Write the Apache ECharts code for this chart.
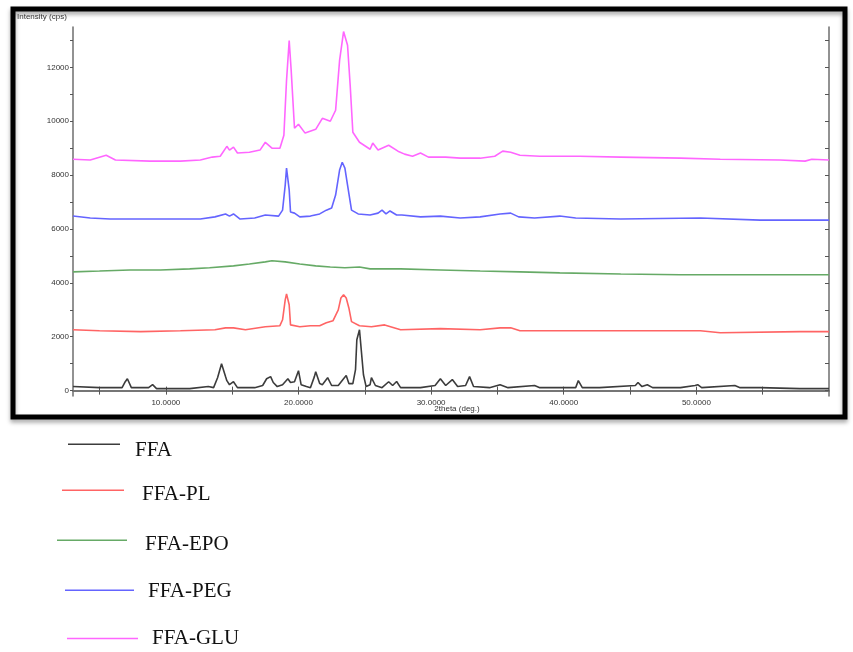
<!DOCTYPE html>
<html>
<head>
<meta charset="utf-8">
<script src="https://cdn.jsdelivr.net/npm/echarts@6/dist/echarts.min.js"></script>
<style>
html, body { margin: 0; padding: 0; background: #fff; }
#chart { width: 853px; height: 652px; }
</style>
</head>
<body>
<div id="chart"></div>
<script>
// 2theta (deg.) vs intensity (cps)
var ffa = [[3.0,150],[5.0,110],[6.7,110],[6.9,300],[7.1,440],[7.2,370],[7.4,110],[8.7,110],[9.0,220],[9.3,75],
	[11.8,75],[13.2,150],[13.6,110],[13.9,480],[14.2,1000],[14.3,1040],[14.5,520],[14.6,370],[14.8,220],[15.1,330],
	[15.4,110],[16.7,110],[17.3,190],[17.6,440],[17.9,520],[18.1,300],[18.4,150],[18.8,220],[19.2,440],[19.4,300],
	[19.7,330],[20.0,740],[20.2,220],[20.6,150],[20.9,110],[21.2,520],[21.3,700],[21.6,260],[21.8,220],[22.2,480],
	[22.5,190],[23.0,190],[23.4,440],[23.6,560],[23.8,260],[24.1,260],[24.3,780],[24.4,1890],[24.6,2260],[24.7,1700],
	[24.9,590],[25.1,150],[25.4,220],[25.5,480],[25.8,190],[26.3,110],[26.8,330],[27.1,190],[27.4,340],[27.7,110],
	[29.2,110],[30.3,190],[30.7,440],[31.1,190],[31.6,410],[32.0,150],[32.6,190],[32.9,520],[33.2,150],[34.4,110],
	[35.2,220],[35.8,110],[37.8,190],[38.2,110],[40.9,110],[41.1,370],[41.4,110],[42.7,110],[45.4,190],[45.6,300],
	[45.9,150],[46.3,220],[46.7,110],[48.8,110],[49.9,190],[50.1,220],[50.4,110],[52.9,190],[53.3,110],[54.8,110],
	[57.8,75],[60.0,75]];

var ffaPL = [[3.0,2260],[5.0,2220],[8.1,2190],[11.1,2220],[13.7,2260],[14.5,2330],[15.1,2330],[16.0,2260],[17.5,2370],
	[18.6,2410],[18.8,2630],[19.0,3370],[19.1,3590],[19.3,3190],[19.4,2440],[20.1,2370],[20.9,2410],[21.6,2410],
	[22.1,2520],[22.6,2590],[23.0,3000],[23.2,3440],[23.4,3560],[23.6,3440],[23.8,3070],[24.0,2560],[24.6,2410],
	[25.5,2370],[26.5,2440],[27.7,2260],[30.7,2300],[33.7,2260],[35.2,2330],[36.0,2330],[36.7,2220],[42.7,2220],
	[50.3,2220],[51.8,2150],[57.8,2190],[60.0,2190]];

var ffaEPO = [[3.0,4410],[5.0,4440],[7.3,4480],[9.6,4480],[11.8,4520],[13.3,4560],[15.1,4630],[16.3,4700],[17.5,4780],
	[18.0,4820],[19.0,4780],[20.1,4700],[21.3,4630],[22.4,4590],[23.5,4560],[24.6,4590],[25.4,4520],[27.7,4520],
	[30.7,4480],[33.7,4440],[36.7,4410],[39.7,4370],[44.3,4330],[48.8,4300],[54.8,4300],[60.0,4300]];

var ffaPEG = [[3.0,6480],[4.3,6410],[5.8,6370],[8.8,6370],[12.6,6370],[13.7,6450],[14.5,6560],[14.8,6480],[15.1,6560],
	[15.6,6370],[16.7,6410],[17.5,6520],[18.5,6480],[18.8,6700],[19.0,7630],[19.1,8260],[19.3,7450],[19.4,6630],
	[19.7,6590],[20.1,6450],[20.9,6480],[21.6,6560],[22.1,6700],[22.5,6780],[22.8,7260],[23.1,8190],[23.3,8480],
	[23.5,8260],[23.7,7630],[24.0,6700],[24.5,6560],[25.4,6520],[26.0,6590],[26.3,6700],[26.6,6560],[26.9,6670],
	[27.4,6520],[27.8,6520],[29.2,6450],[30.7,6480],[32.2,6410],[33.7,6450],[35.2,6560],[36.0,6590],[36.6,6450],
	[37.8,6410],[39.7,6480],[40.9,6410],[44.3,6370],[50.3,6410],[54.8,6330],[60.0,6330]];

var ffaGLU = [[3.0,8590],[4.3,8560],[5.5,8740],[6.2,8560],[8.8,8520],[11.1,8520],[12.6,8560],[13.5,8670],[14.1,8700],
	[14.6,9070],[14.8,8930],[15.1,9040],[15.4,8820],[16.3,8850],[17.1,8930],[17.5,9220],[18.0,9000],[18.6,9000],
	[18.9,9480],[19.1,11520],[19.3,13000],[19.45,11890],[19.7,9740],[20.0,9890],[20.5,9560],[21.3,9700],[21.8,10110],
	[22.4,10000],[22.8,10410],[23.1,12260],[23.4,13330],[23.7,12820],[23.9,11330],[24.1,9590],[24.6,9220],[25.4,8960],
	[25.6,9190],[26.0,8930],[26.8,9110],[27.5,8890],[28.0,8780],[28.6,8700],[29.2,8820],[29.8,8670],[31.1,8670],
	[32.2,8630],[33.7,8630],[34.8,8700],[35.4,8890],[36.0,8850],[36.7,8740],[38.2,8700],[41.2,8700],[44.3,8670],
	[48.8,8630],[51.8,8590],[56.3,8560],[58.2,8520],[58.7,8590],[60.0,8560]];

var names = ['FFA', 'FFA-PL', 'FFA-EPO', 'FFA-PEG', 'FFA-GLU'];
var colors = ['#3c3c3c', '#ff6464', '#66aa66', '#6464ff', '#ff66ff'];
var xMinorTicks = [5, 10, 15, 20, 25, 30, 35, 40, 45, 50, 55];
var xLabels = [10, 20, 30, 40, 50];
var yTicks = [0, 1000, 2000, 3000, 4000, 5000, 6000, 7000, 8000, 9000, 10000, 11000, 12000, 13000];
var yLabels = [0, 2000, 4000, 6000, 8000, 10000, 12000];

var chart = echarts.init(document.getElementById('chart'));

var axisLine = { show: true, lineStyle: { color: '#6e6e6e', width: 1.5 } };
var tick = function(vals, inside, len) {
	return { show: true, inside: inside, length: len, customValues: vals, lineStyle: { color: '#555', width: 1 } };
};

// legend placed by hand, one per row: line y, text centre y, gap before text
var legendRows = [
	{ left: 68, line: 443, text: 450, w: 52, gap: 10 },
	{ left: 62, line: 489, text: 494, w: 62, gap: 13 },
	{ left: 57, line: 539, text: 544, w: 70, gap: 13 },
	{ left: 65, line: 589, text: 591, w: 69, gap: 9 },
	{ left: 67, line: 638, text: 638, w: 71, gap: 9 }
];
var legends = legendRows.map(function(r, i) {
	// icon box is centred on the text; the line sits at the top of the box
	var h = Math.max(2 * (r.text - r.line), 1.5);
	var icon = h > 1.5
		? 'path://M0,0H' + r.w + 'V1.5H0Z M0,' + (h - 0.01) + 'H0.01V' + h + 'H0Z'
		: 'rect';
	return {
		data: [names[i]],
		left: r.left, top: r.text - 10,
		orient: 'horizontal',
		icon: icon, itemWidth: r.w, itemHeight: h,
		symbolKeepAspect: false,
		padding: 0,
		selectedMode: false,
		textStyle: { fontFamily: 'Liberation Serif', fontSize: 21, color: '#111', padding: [0, 0, 0, r.gap] }
	};
});

var series = [ffa, ffaPL, ffaEPO, ffaPEG, ffaGLU].map(function(d, i) {
	return {
		name: names[i], type: 'line', data: d,
		showSymbol: false, silent: true,
		lineStyle: { color: colors[i], width: 1.6 },
		itemStyle: { color: colors[i] }
	};
});

chart.setOption({
	backgroundColor: '#fff',
	animation: false,
	grid: { left: 73, right: 24, top: 27, bottom: 256 },
	legend: legends,
	xAxis: [{
		type: 'value', min: 3, max: 60, position: 'bottom',
		axisLine: axisLine,
		axisTick: tick(xMinorTicks, true, 4),
		axisLabel: { customValues: xLabels, margin: 3, fontFamily: 'Liberation Sans', fontSize: 8, color: '#333',
			formatter: function(v) { return v.toFixed(4); } },
		splitLine: { show: false }
	}, {
		type: 'value', min: 3, max: 60, position: 'top',
		axisLine: axisLine,
		axisTick: tick(xMinorTicks, true, 4),
		axisLabel: { show: false },
		splitLine: { show: false }
	}],
	yAxis: [{
		type: 'value', min: -200, max: 13500, position: 'left',
		axisLine: axisLine,
		axisTick: tick(yTicks, false, 3),
		axisLabel: { customValues: yLabels, margin: 4, fontFamily: 'Liberation Sans', fontSize: 8, color: '#333',
			formatter: function(v) { return String(v); } },
		splitLine: { show: false }
	}, {
		type: 'value', min: -200, max: 13500, position: 'right',
		axisLine: axisLine,
		axisTick: tick(yTicks, true, 4),
		axisLabel: { show: false },
		splitLine: { show: false }
	}],
	graphic: [
		{ type: 'rect', shape: { x: 13, y: 9, width: 832, height: 408 }, silent: true,
			style: { fill: 'none', stroke: '#000', lineWidth: 5, shadowBlur: 4, shadowColor: 'rgba(0,0,0,0.35)', shadowOffsetY: 3 } },
		{ type: 'text', left: 17, top: 13, silent: true,
			style: { text: 'Intensity (cps)', fontFamily: 'Liberation Sans', fontSize: 8, fill: '#333' } },
		{ type: 'text', x: 457, y: 409, silent: true,
			style: { text: '2theta (deg.)', align: 'center', verticalAlign: 'middle',
				fontFamily: 'Liberation Sans', fontSize: 8, fill: '#333' } }
	],
	series: series
});
</script>
</body>
</html>
